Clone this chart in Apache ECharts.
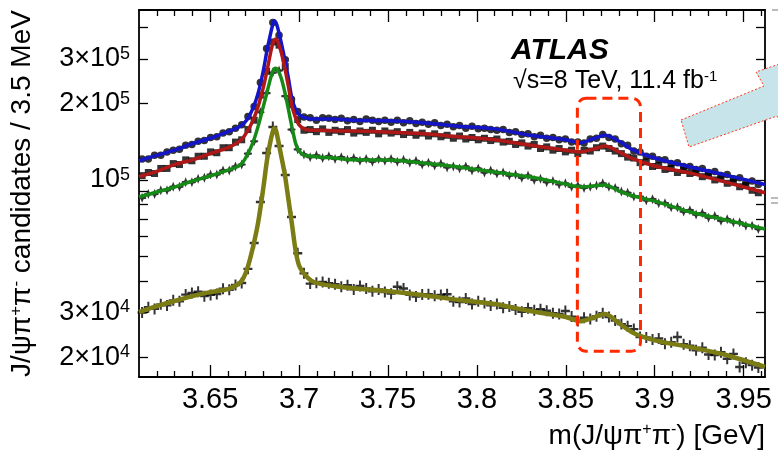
<!DOCTYPE html>
<html><head><meta charset="utf-8">
<script src="https://cdn.jsdelivr.net/npm/echarts@6/dist/echarts.min.js"></script>
<style>html,body{margin:0;padding:0;background:#fff}#c{width:778px;height:452px}</style>
</head><body><div id="c"></div>
<script>
// ---------- data (counts in thousands of candidates per 3.5 MeV bin) ----------
const BIN_START = 3.61175;   // first bin centre [GeV]
const BIN_WIDTH = 0.0035;    // 3.5 MeV bins
const UNIT = 1000;

const dataAll = [121,121,125,125,129,131,132,137,138,142,143,147,148,153,155,160,165,178,195,242,
330,418,372,298,208,186,177,176,172,176,175,173,175,171,173,170,174,172,170,172,
169,172,168,171,167,169,166,168,164,166,162,164,160,163,159,160,158,157,158,154,
155,151,152,148,150,146,147,144,145,141,141,140,145,146,151,147,145,139,137,130,
129,124,124,120,120,116,117,113,113,110,111,107,108,104,105,101,102,98,99,96];
const dataCutA = [104,107,106,111,111,116,115,120,119,124,124,129,128,134,134,141,144,158,172,216,
268,350,340,280,198,173,157,158,155,159,154,157,155,158,153,156,154,157,152,156,
153,155,151,154,150,153,149,152,148,150,146,149,145,147,144,146,143,145,141,142,
138,140,136,138,133,135,131,133,129,131,127,131,130,134,136,133,130,127,123,122,
117,118,113,114,110,111,107,109,106,107,103,104,100,101,97,98,94,95,91,89];
const dataCutB = [85,88,88,91,91,94,94,98,98,101,102,105,105,109,109,113,115,127,142,185,
220,265,270,214,158,132,126,123,125,122,124,121,123,120,122,119,121,118,121,119,
121,118,120,117,119,115,117,114,116,112,113,111,113,109,111,107,109,106,107,104,
105,102,104,100,101,98,99,96,97,94,95,93,94,95,97,94,93,90,89,86,
86,83,84,81,81,78,78,75,76,73,74,71,72,69,70,68,68,66,66,64];
const dataCutC = [30.0,31.5,31.0,32.3,32.0,33.5,33.2,35.3,35.8,36.2,34.8,35.2,35.5,37.2,36.9,38.5,39.2,44.6,56.4,81.8,
127.7,161.7,136,104.6,71.4,51.4,42.8,39.0,39.3,39.6,39.1,38.8,37.9,38.4,37.0,38.2,37.3,36.4,37.0,36.1,
35.6,37.9,37.3,35.2,34.7,35.3,35.4,34.9,35.2,35.4,33.2,33.0,34.1,32.4,33.2,32.7,32.0,32.4,31.3,31.7,
30.8,30.2,31.2,30.6,30.9,30.5,29.8,29.6,30.4,28.9,27.8,28.6,28.3,29.0,29.8,28.8,27.9,27.0,26.5,25.8,
24.0,23.9,23.5,23.7,22.6,22.9,24.0,22.5,22.2,21.3,21.8,20.5,20.4,20.9,19.7,20.6,18.3,19.0,18.6,18.2];

// fitted curves (thousands)
const fitX = [3.61,3.62,3.63,3.64,3.65,3.66,3.665,3.668,3.671,3.674,3.677,3.68,3.682,3.684,3.685,3.686,3.687,3.688,3.69,3.692,
3.694,3.696,3.698,3.7,3.703,3.707,3.712,3.72,3.73,3.75,3.77,3.79,3.81,3.83,3.85,3.858,3.865,3.872,3.88,3.888,3.9,3.92,3.94,3.962];
const fitAll = [119,125,131,139,146,155,160,165,174,191,220,272,325,378,405,424,418,398,347,298,
252,209,190,181,176,174,174,174,172,171,168,163,159,150,144,140,145,150,142,131,122,112.5,104.5,96];
const fitCutA = [103,108,115,120,127,134,140,145,156,171,195,233,270,318,340,355,360,352,318,276,
234,196,176,165,159,157,157,156,156,154.5,152,148,144,137,131,129,132,136,129,121,113.5,106.4,98,89];
const fitCutB = [85.6,89.6,93.8,99,103.6,109.4,112.5,116.5,126,140,163,196,222,252,265,274,276,272,252,222,
190,162,140,130,125,124,123,122,120,119.8,116.6,112.5,107.4,102.7,96.3,93.8,94.6,95.5,90.4,86.4,82.5,74.7,69.5,64];
const fitCutC = [30.1,31.8,33.3,34.8,36.1,37.1,38.5,40.2,45,54,68,94,120,143,153,160,157,146,124,105,
84,67,53,46,42.5,40,38.9,38.1,37.4,36.4,35.1,33.6,32.4,30.4,28.8,27.7,28.6,29.6,27.2,24.9,23.3,21.9,20.4,18.3];

// axes
const xMajorTicks = [3.65,3.7,3.75,3.8,3.85,3.9,3.95];
const xTickLabels = ['3.65','3.7','3.75','3.8','3.85','3.9','3.95'];
const xMinorTicks = [3.62,3.63,3.64,3.66,3.67,3.68,3.69,3.71,3.72,3.73,3.74,3.76,3.77,3.78,3.79,3.81,3.82,3.83,3.84,
3.86,3.87,3.88,3.89,3.91,3.92,3.93,3.94,3.96];
const yTickValues = [20000,30000,40000,50000,60000,70000,80000,90000,100000,200000,300000,400000];
const yLabelValues = [20000,30000,100000,200000,300000];
const yLabelMant = ['2×10','3×10','10','2×10','3×10'];
const yLabelExp = ['4','4','5','5','5'];
const X_MIN = 3.61, X_MAX = 3.962, Y_MIN = 16700, Y_MAX = 468000;
// highlighted X(3872) window
const BOX_X = [3.8565, 3.892], BOX_Y = [21100, 210000];

// ---------- chart ----------
const FONT = '"Liberation Sans", Arial, Helvetica, sans-serif';
const chart = echarts.init(document.getElementById('c'), null, {renderer: 'canvas'});
const toPts = arr => arr.map((v, i) => [BIN_START + i * BIN_WIDTH, v * UNIT]);
const toFit = arr => arr.map((v, i) => [fitX[i], v * UNIT]);

const lineBlack = {color: '#000', width: 1.8};
function xAxisDef(pos, major) {
  return {
    type: 'value', min: X_MIN, max: X_MAX, position: pos, gridIndex: 0,
    axisLine: {show: major, onZero: false, lineStyle: lineBlack},
    splitLine: {show: false},
    axisTick: {show: true, inside: true, length: major ? 12 : 6,
      customValues: major ? xMajorTicks : xMinorTicks, lineStyle: {color: '#000', width: 1.3}},
    axisLabel: {show: major && pos === 'bottom', customValues: xMajorTicks, margin: 8,
      fontSize: 29, fontFamily: FONT, color: '#000',
      formatter: v => { const k = xMajorTicks.findIndex(t => Math.abs(t - v) < 1e-6); return k < 0 ? '' : xTickLabels[k]; }}
  };
}
function yAxisDef(pos) {
  const left = pos === 'left';
  return {
    type: 'log', logBase: 10, min: Y_MIN, max: Y_MAX, position: pos, gridIndex: 0,
    axisLine: {show: true, onZero: false, lineStyle: lineBlack},
    splitLine: {show: false}, minorTick: {show: false},
    axisTick: {show: true, inside: true, length: 9, customValues: yTickValues, lineStyle: {color: '#000', width: 1.3}},
    axisLabel: {show: left, customValues: yLabelValues, margin: 9, fontSize: 27, fontFamily: FONT, color: '#000',
      formatter: v => { const k = yLabelValues.findIndex(t => Math.abs(t - v) / t < 1e-6); return k < 0 ? '' : yLabelMant[k] + '{e|' + yLabelExp[k] + '}'; },
      rich: {e: {fontSize: 18, fontFamily: FONT, color: '#000', verticalAlign: 'top', padding: [0, 0, 10, 0]}}},
    name: left ? 'J/ψπ{s|+}π{s|-} candidates / 3.5 MeV' : '',
    nameLocation: 'middle', nameGap: 102,
    nameTextStyle: {fontSize: 28, fontFamily: FONT, color: '#000',
      rich: {s: {fontSize: 17, fontFamily: FONT, color: '#000', verticalAlign: 'top', padding: [0, 0, 12, 0]}}}
  };
}

const plus = 'path://M0,3.9H10V6.1H0Z M3.9,0H6.1V10H3.9Z';
const star = 'path://M5,0L6.8,3.6L10,4.2L10,5.8L6.8,6.4L5,10L3.2,6.4L0,5.8L0,4.2L3.2,3.6Z';
const fitLine = (name, arr, color, w) => ({
  name, type: 'line', data: toFit(arr), xAxisIndex: 0, yAxisIndex: 0, showSymbol: false, symbol: 'none',
  smooth: 0.3, z: 5, lineStyle: {color, width: w}, silent: true
});
const pts = (name, arr, symbol, size) => ({
  name, type: 'scatter', data: toPts(arr), xAxisIndex: 0, yAxisIndex: 0, symbol, symbolSize: size,
  itemStyle: {color: '#000'}, z: 3, silent: true
});

chart.setOption({
  animation: false,
  backgroundColor: '#fff',
  grid: {left: 139, top: 10, right: 13, bottom: 75, containLabel: false, outerBoundsMode: 'none'},
  xAxis: [xAxisDef('bottom', true), xAxisDef('bottom', false), xAxisDef('top', true), xAxisDef('top', false)],
  yAxis: [yAxisDef('left'), yAxisDef('right')],
  series: [
    pts('all data', dataAll, 'circle', 7.5),
    pts('cut A data', dataCutA, 'rect', 7),
    pts('cut B data', dataCutB, star, [8, 10]),
    pts('cut C data', dataCutC, plus, [9, 11]),
    fitLine('all fit', fitAll, '#1414c8', 3.5),
    fitLine('cut A fit', fitCutA, '#b01818', 3.5),
    fitLine('cut B fit', fitCutB, '#168a16', 3.5),
    fitLine('cut C fit', fitCutC, '#7c7c14', 4.5)
  ]
});

const pA = chart.convertToPixel({xAxisIndex: 0, yAxisIndex: 0}, [BOX_X[0], BOX_Y[1]]);
const pB = chart.convertToPixel({xAxisIndex: 0, yAxisIndex: 0}, [BOX_X[1], BOX_Y[0]]);

chart.setOption({
  graphic: [
    {type: 'text', left: 511, top: 36, z: 10,
      style: {text: 'ATLAS', font: 'italic bold 30px ' + FONT, fill: '#000'}},
    {type: 'text', left: 513, top: 69, z: 10,
      style: {text: '√s=8 TeV, 11.4 fb{s|-1}', font: '25px ' + FONT, fill: '#000',
        rich: {s: {fontSize: 15, fontFamily: FONT, fill: '#000', verticalAlign: 'top', padding: [0, 0, 10, 0]}}}},
    {type: 'text', right: 13, top: 422, z: 10,
      style: {text: 'm(J/ψπ{s|+}π{s|-}) [GeV]', font: '28px ' + FONT, fill: '#000',
        rich: {s: {fontSize: 16, fontFamily: FONT, fill: '#000', verticalAlign: 'top', padding: [0, 0, 12, 0]}}}},
    {type: 'rect', z: 20,
      shape: {x: pA[0], y: pA[1], width: pB[0] - pA[0], height: pB[1] - pA[1], r: 9},
      style: {fill: 'none', stroke: '#ff2a00', lineWidth: 3, lineDash: [10, 6]}},
    {type: 'polygon', z: 20,
      shape: {points: [[681, 120], [764, 86], [756, 72], [835, 45], [790, 140], [777, 116], [689, 147]]},
      style: {fill: '#c6e4e9', stroke: '#ff3b1f', lineWidth: 1, lineDash: [2, 2]}},
    {type: 'line', shape: {x1: 772, y1: 10, x2: 778, y2: 10}, style: {stroke: '#777', lineWidth: 1}},
    {type: 'line', shape: {x1: 771, y1: 198, x2: 778, y2: 198}, style: {stroke: '#777', lineWidth: 1}},
    {type: 'line', shape: {x1: 771, y1: 203, x2: 778, y2: 203}, style: {stroke: '#777', lineWidth: 1}}
  ]
});
</script></body></html>
